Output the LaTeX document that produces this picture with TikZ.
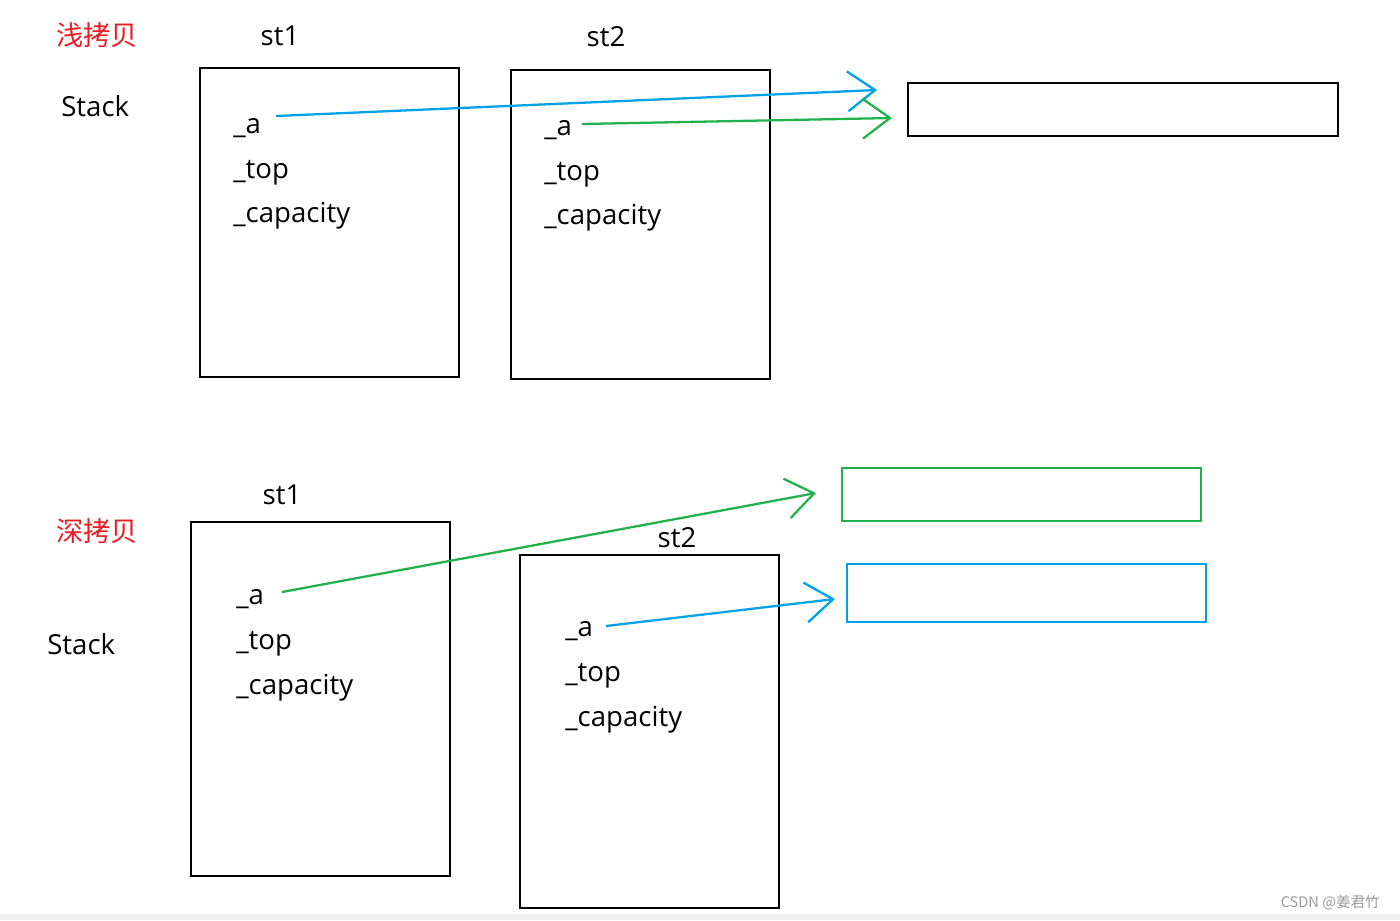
\documentclass[tikz,border=0pt]{standalone}
\usepackage{fontspec}
\setmainfont{Open Sans}
\newfontfamily\cjk{Noto Sans CJK SC}
\usetikzlibrary{arrows.meta}
\definecolor{pblue}{RGB}{0,162,232}
\definecolor{pgreen}{RGB}{34,177,76}
\definecolor{pred}{RGB}{237,28,36}
\tikzset{
	frame/.style={draw=black, line width=1.5pt},
	field/.style={anchor=base west, inner sep=0pt, font=\fontsize{15.7}{18}\selectfont},
	title/.style={anchor=base, inner sep=0pt, font=\fontsize{15.7}{18}\selectfont},
	cn/.style={inner sep=0pt, text=pred, font=\cjk\fontsize{15.5}{18}\selectfont},
	ptr/.style={line width=1.3pt, -{Straight Barb[length=5.5mm, width=8mm, line width=1.3pt]}},
}
\begin{document}
\begin{tikzpicture}[x=0.02cm, y=-0.02cm]
	\useasboundingbox (0,0) rectangle (1400,920);
	\fill[black!6] (0,914) rectangle (1400,920);
	
	% shallow copy
	\node[cn] (shallow) at (97,35) {浅拷贝};
	\node[title, anchor=base west] (stackA) at (61,116) {Stack};
	\node[title] (st1A) at (280,45) {st1};
	\node[title] (st2A) at (606,46) {st2};
	\draw[frame] (200,68) rectangle (459,377);
	\draw[frame] (511,70) rectangle (770,379);
	\draw[frame] (908,83) rectangle (1338,136);
	\node[field] (a1) at (233,133) {\_a};
	\node[field] (top1) at (233,178) {\_top};
	\node[field] (cap1) at (233,222) {\_capacity};
	\node[field] (a2) at (544,135) {\_a};
	\node[field] (top2) at (544,180) {\_top};
	\node[field] (cap2) at (544,224) {\_capacity};
	\coordinate (p1) at (276,116);
	\coordinate (q1) at (877,90);
	\coordinate (p2) at (582,124);
	\coordinate (q2) at (892,118);
	\draw[ptr, pblue] (p1) -- (q1);
	\draw[ptr, pgreen] (p2) -- (q2);
	
	% deep copy
	\node[cn] (deep) at (97,531) {深拷贝};
	\node[title, anchor=base west] (stackB) at (47,654) {Stack};
	\node[title] (st1B) at (282,504) {st1};
	\node[title] (st2B) at (677,547) {st2};
	\draw[frame] (191,522) rectangle (450,876);
	\draw[frame] (520,555) rectangle (779,908);
	\draw[pgreen, line width=1.5pt] (842,468) rectangle (1201,521);
	\draw[pblue, line width=1.5pt] (847,564) rectangle (1206,622);
	\node[field] (a3) at (236,604) {\_a};
	\node[field] (top3) at (236,649) {\_top};
	\node[field] (cap3) at (236,694) {\_capacity};
	\node[field] (a4) at (565,636) {\_a};
	\node[field] (top4) at (565,681) {\_top};
	\node[field] (cap4) at (565,726) {\_capacity};
	\coordinate (p3) at (282,592);
	\coordinate (q3) at (816,493);
	\coordinate (p4) at (606,626);
	\coordinate (q4) at (835,599);
	\draw[ptr, pgreen] (p3) -- (q3);
	\draw[ptr, pblue] (p4) -- (q4);
	
	\node[anchor=east, text=black!40, font=\cjk\fontsize{8.3}{10}\selectfont] (mark) at (1386,903) {CSDN @姜君竹};
\end{tikzpicture}
\end{document}
